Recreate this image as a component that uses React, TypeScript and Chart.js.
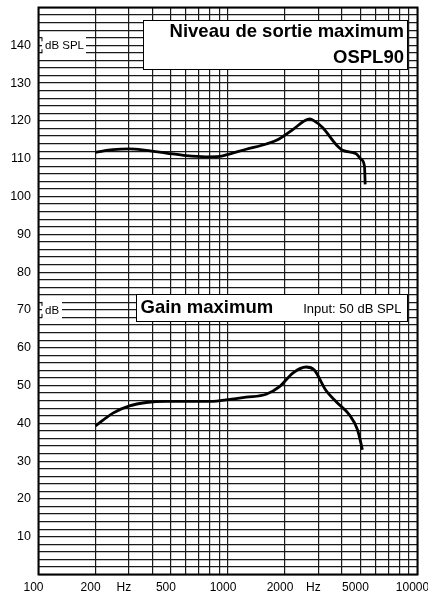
import { useEffect, useRef } from 'react';
import { Chart, registerables } from 'chart.js';

Chart.register(...registerables);

// Frequency grid (Hz) and labels shown under the axis
const freqTicks = [100, 200, 300, 400, 500, 600, 700, 800, 900, 1000, 2000, 3000, 4000, 5000, 6000, 7000, 8000, 9000, 10000];
const freqLabels = ['100', '200', 'Hz', '', '500', '', '', '', '', '1000', '2000', 'Hz', '', '5000', '', '', '', '', '10000'];

// Level axis labels (dB)
const levelLabels = [10, 20, 30, 40, 50, 60, 70, 80, 90, 100, 110, 120, 130, 140];

// OSPL90 curve
const osplFreq = [200, 247, 302, 370, 472, 601, 767, 902, 978, 1247, 1591, 1870, 2198, 2550, 2700, 2850, 3165, 3724, 4035, 4746, 5045, 5250, 5296];
const osplLevel = [111.7, 112.4, 112.6, 112.2, 111.5, 110.8, 110.5, 110.6, 111.0, 112.5, 113.9, 115.3, 117.7, 120.1, 120.5, 120.0, 118.2, 113.7, 112.2, 111.3, 109.8, 108.0, 103.2];

// Maximum gain curve
const gainFreq = [200, 247, 302, 370, 472, 601, 831, 978, 1247, 1591, 1870, 2198, 2585, 2853, 3276, 3724, 4378, 4823, 5120];
const gainLevel = [39.3, 42.7, 44.6, 45.5, 45.8, 45.8, 45.8, 46.2, 46.9, 47.7, 49.7, 53.3, 54.9, 54.1, 48.8, 45.7, 42.2, 38.3, 33.0];

const FONT = '"Liberation Sans", Arial, Helvetica, sans-serif';

const overlayPlugin = {
  id: 'overlayBoxes',
  afterDatasetsDraw(chart: any) {
    const ctx: CanvasRenderingContext2D = chart.ctx;
    const a = chart.chartArea;
    const ys = chart.scales.y;
    ctx.save();

    // chart frame
    ctx.lineWidth = 2;
    ctx.strokeStyle = '#000';
    ctx.strokeRect(a.left, a.top, a.right - a.left, a.bottom - a.top);

    // unit labels on the left
    const unitBox = (text: string, value: number, w: number) => {
      const cy = ys.getPixelForValue(value);
      const x0 = a.left + 3.5;
      const top = cy - 9;
      ctx.fillStyle = '#fff';
      ctx.fillRect(x0, top, w, 18);
      ctx.lineWidth = 1;
      ctx.strokeStyle = '#000';
      ctx.beginPath();
      ctx.moveTo(x0, top + 1);
      ctx.lineTo(x0, top + 5);
      ctx.moveTo(x0, top + 13);
      ctx.lineTo(x0, top + 17);
      ctx.stroke();
      ctx.fillStyle = '#000';
      ctx.font = '11.5px ' + FONT;
      ctx.textAlign = 'left';
      ctx.textBaseline = 'middle';
      ctx.fillText(text, x0 + 3, cy + 0.5);
    };
    unitBox('dB SPL', 140, 44);
    unitBox('dB', 70, 20);

    // title box OSPL90
    ctx.fillStyle = '#fff';
    ctx.fillRect(143.5, 20.5, 264, 49);
    ctx.lineWidth = 1;
    ctx.strokeStyle = '#000';
    ctx.strokeRect(143.5, 20.5, 264, 49);
    ctx.fillStyle = '#000';
    ctx.font = 'bold 18.5px ' + FONT;
    ctx.textAlign = 'right';
    ctx.textBaseline = 'alphabetic';
    ctx.fillText('Niveau de sortie maximum', 404, 37);
    ctx.fillText('OSPL90', 404, 63);

    // title box gain
    ctx.fillStyle = '#fff';
    ctx.fillRect(136.5, 294.5, 271, 27);
    ctx.strokeRect(136.5, 294.5, 271, 27);
    ctx.fillStyle = '#000';
    ctx.textAlign = 'left';
    ctx.font = 'bold 18.5px ' + FONT;
    ctx.fillText('Gain maximum', 140.5, 312.5);
    ctx.textAlign = 'right';
    ctx.font = '13px ' + FONT;
    ctx.fillText('Input: 50 dB SPL', 401.5, 312.5);

    ctx.restore();
  },
};

export default function App() {
  const canvasRef = useRef<HTMLCanvasElement | null>(null);

  useEffect(() => {
    if (!canvasRef.current) return;
    const chart = new Chart(canvasRef.current, {
      type: 'line',
      data: {
        datasets: [
          {
            label: 'OSPL90',
            data: osplFreq.map((f, i) => ({ x: f, y: osplLevel[i] })),
            borderColor: '#000',
            borderWidth: 2.8,
            pointRadius: 0,
            fill: false,
            cubicInterpolationMode: 'monotone',
          },
          {
            label: 'Gain maximum',
            data: gainFreq.map((f, i) => ({ x: f, y: gainLevel[i] })),
            borderColor: '#000',
            borderWidth: 2.8,
            pointRadius: 0,
            fill: false,
            cubicInterpolationMode: 'monotone',
          },
        ],
      },
      options: {
        responsive: false,
        animation: false,
        devicePixelRatio: 1,
        layout: { padding: { top: 7.5, right: 10.5, bottom: 0, left: 0 } },
        plugins: { legend: { display: false }, tooltip: { enabled: false } },
        scales: {
          x: {
            type: 'logarithmic',
            min: 100,
            max: 10000,
            afterBuildTicks: (scale: any) => {
              scale.ticks = freqTicks.map((v) => ({ value: v }));
            },
            afterFit: (scale: any) => {
              scale.height = 17.5;
              scale.paddingLeft = 0;
              scale.paddingRight = 0;
            },
            grid: { color: '#1a1a1a', lineWidth: 1.2, drawTicks: false },
            border: { display: false },
            ticks: {
              autoSkip: false,
              maxRotation: 0,
              padding: 6,
              labelOffset: -5,
              color: '#000',
              font: { family: FONT, size: 12 },
              callback: (_v: any, i: number) => freqLabels[i] ?? '',
            },
          },
          y: {
            type: 'linear',
            min: 0,
            max: 150,
            afterFit: (scale: any) => {
              scale.width = 38.5;
              scale.paddingTop = 0;
              scale.paddingBottom = 0;
            },
            grid: { color: '#1a1a1a', lineWidth: 1.2, drawTicks: false },
            border: { display: false },
            ticks: {
              stepSize: 2,
              autoSkip: false,
              padding: 7.5,
              color: '#000',
              font: { family: FONT, size: 12.5 },
              callback: (v: any) => (levelLabels.includes(Number(v)) ? String(v) : ''),
            },
          },
        },
      },
      plugins: [overlayPlugin],
    } as any);
    return () => chart.destroy();
  }, []);

  return (
    <div style={{ position: 'absolute', left: 0, top: 0, width: 428, height: 592, background: '#fff' }}>
      <canvas ref={canvasRef} width={428} height={592} style={{ display: 'block' }} />
    </div>
  );
}
